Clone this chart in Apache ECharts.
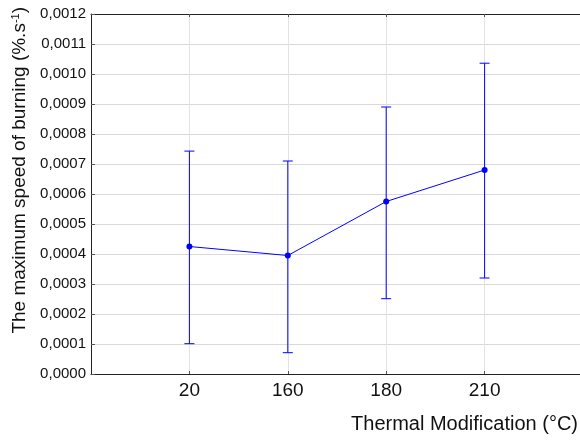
<!DOCTYPE html>
<html><head><meta charset="utf-8">
<script src="https://cdn.jsdelivr.net/npm/echarts@6/dist/echarts.min.js"></script>
<style>html,body{margin:0;padding:0;background:#fff}#c{width:580px;height:442px}</style>
</head><body><div id="c"></div>
<script>
var categories = ['', '20', '160', '180', '210', ''];
var means = [null, 0.000425, 0.000395, 0.000575, 0.00068, null];
var lower = [null, 0.000101, 0.000071, 0.000251, 0.00032, null];
var upper = [null, 0.000743, 0.00071, 0.00089, 0.001036, null];
var yTicks = [0, 0.0012, 0.0001];

var font = '"Liberation Sans", Arial, sans-serif';
var chart = echarts.init(document.getElementById('c'), null, {renderer: 'canvas'});
var errData = [];
for (var i = 0; i < categories.length; i++) {
  if (means[i] !== null) errData.push([i, lower[i], upper[i]]);
}
var lineData = [];
for (var j = 0; j < categories.length; j++) lineData.push(means[j] === null ? '-' : [j, means[j]]);
function inner(idx) { return idx > 0 && idx < categories.length - 1; }

chart.setOption({
  animation: false,
  grid: {left: 91, top: 14, right: -3, bottom: 68, outerBoundsMode: 'none', containLabel: false},
  xAxis: [{
    type: 'category', data: categories, boundaryGap: false,
    axisLine: {lineStyle: {color: '#222', width: 1}},
    axisTick: {inside: true, length: 3, interval: inner, lineStyle: {color: '#555'}},
    axisLabel: {fontFamily: font, fontSize: 19, color: '#111', margin: 7},
    splitLine: {show: true, interval: inner, lineStyle: {color: '#e3e3e3', width: 1}}
  }, {
    type: 'category', data: categories, boundaryGap: false, position: 'top',
    axisLine: {lineStyle: {color: '#222', width: 1}},
    axisTick: {inside: true, length: 3, interval: inner, lineStyle: {color: '#555'}},
    axisLabel: {show: false}, splitLine: {show: false}
  }],
  yAxis: {
    type: 'value', min: yTicks[0], max: yTicks[1], interval: yTicks[2],
    axisLine: {show: true, lineStyle: {color: '#222', width: 1}},
    axisTick: {show: true, inside: true, length: 4, lineStyle: {color: '#555'}},
    axisLabel: {fontFamily: font, fontSize: 15, color: '#111', margin: 5,
      formatter: function (v) { return v.toFixed(4).replace('.', ','); }},
    splitLine: {show: true, lineStyle: {color: '#d9d9d9', width: 1}}
  },
  graphic: [{
    type: 'text', right: 2, top: 414,
    style: {text: 'Thermal Modification (°C)', font: '20px ' + font, fill: '#111'}
  }, {
    type: 'text', left: 10, top: 7, rotation: Math.PI / 2,
    style: {
      text: '{a|The maximum speed of burning (%.s}{b|-1}{a|)}',
      rich: {
        a: {fontFamily: font, fontSize: 19, fill: '#111'},
        b: {fontFamily: font, fontSize: 11, fill: '#111', verticalAlign: 'top', padding: [0, 0, 9, 0]}
      }
    }
  }],
  series: [{
    type: 'line', data: lineData, symbol: 'circle', symbolSize: 6,
    lineStyle: {color: '#0000ff', width: 1}, itemStyle: {color: '#0000ff'},
    z: 3
  }, {
    type: 'custom', data: errData, z: 2,
    renderItem: function (params, api) {
      var x = api.value(0);
      var lo = api.coord([x, api.value(1)]);
      var hi = api.coord([x, api.value(2)]);
      var hw = 5;
      var st = {stroke: '#0000ff', lineWidth: 1};
      return {type: 'group', children: [
        {type: 'line', shape: {x1: lo[0], y1: lo[1], x2: hi[0], y2: hi[1]}, style: st},
        {type: 'line', shape: {x1: lo[0] - hw, y1: lo[1], x2: lo[0] + hw, y2: lo[1]}, style: st},
        {type: 'line', shape: {x1: hi[0] - hw, y1: hi[1], x2: hi[0] + hw, y2: hi[1]}, style: st}
      ]};
    }
  }]
});
</script></body></html>
